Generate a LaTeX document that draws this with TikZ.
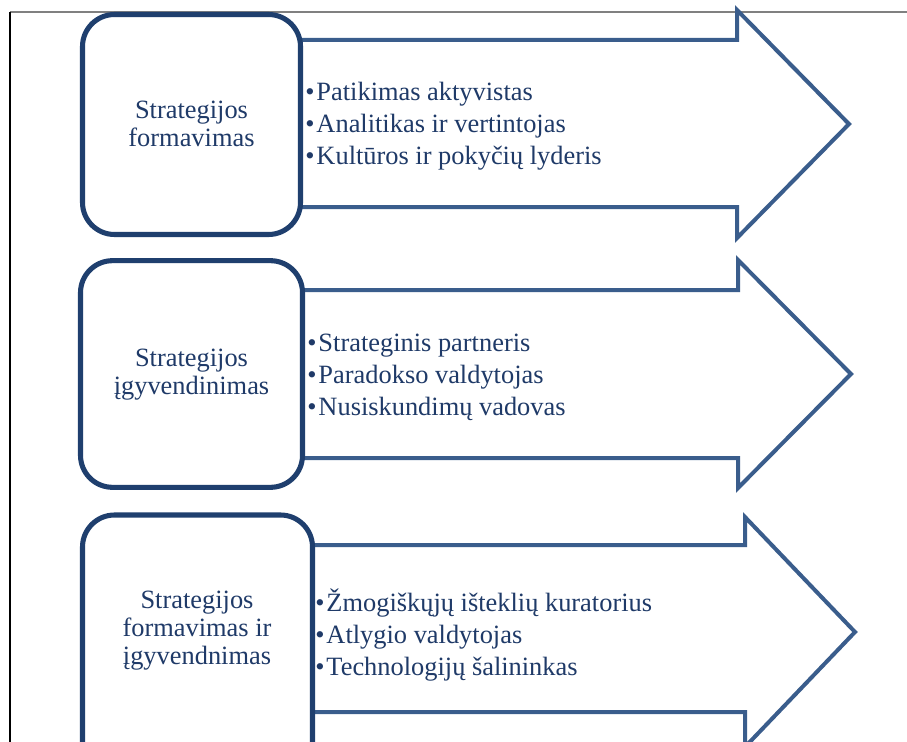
\documentclass[tikz,border=0pt]{standalone}
\usepackage{fontspec}
\setmainfont{Liberation Serif}
\usepackage{tikz}
\usepackage{xcolor}

\definecolor{boxblue}{HTML}{1F3F6E}
\definecolor{arrowblue}{HTML}{3A5D8C}
\definecolor{textblue}{HTML}{1F3A68}

\tikzset{
  stagebox/.style={draw=boxblue, line width=3.8pt, rounded corners=24pt,
    fill=white, inner sep=0pt},
  stagelabel/.style={text=textblue, align=center, inner sep=0pt,
    font=\fontsize{19.8}{21}\selectfont},
  rolelist/.style={anchor=west, text=textblue, align=left, inner sep=0pt,
    font=\fontsize{19.8}{24}\selectfont},
  bigarrow/.style={draw=arrowblue, line width=3pt, fill=white, line join=miter},
}

\begin{document}
\begin{tikzpicture}[x=0.75pt, y=-0.75pt]
    \clip (0,0) rectangle (907,742);
    \useasboundingbox (0,0) rectangle (907,742);
    % page frame
    \draw[gray, line width=0.8pt] (10,12) -- (907,12);
    \draw[black, line width=0.8pt] (10,12) -- (10,742);
    % arrows
    \draw[bigarrow] (300,40) -- (737,40) -- (737,10) -- (849,124)
          -- (737,238) -- (737,207) -- (300,207);
    \draw[bigarrow] (300,290) -- (738,290) -- (738,260) -- (851,374)
          -- (738,488) -- (738,458) -- (300,458);
    \draw[bigarrow] (310,545) -- (745,545) -- (745,517) -- (855,632)
          -- (745,747) -- (745,712) -- (310,712);
    % stage boxes
    \node[stagebox, minimum width=163.5pt, minimum height=165pt]
          (form) at (191.5,124.5) {};
    \node[stagebox, minimum width=166.5pt, minimum height=170pt]
          (impl) at (191.5,374) {};
    \node[stagebox, minimum width=172.5pt, minimum height=195pt]
          (both) at (197.5,645) {};
    % box texts
    \node[stagelabel] (formtext) at (191.5,124) {Strategijos\\formavimas};
    \node[stagelabel] (impltext) at (191.5,375) {Strategijos\\įgyvendinimas};
    \node[stagelabel] (bothtext) at (197,631)
          {Strategijos\\formavimas ir\\įgyvendnimas};
    % role lists
    \node[rolelist] (formroles) at (305,126)
          {\textbullet\hspace{1.5pt}Patikimas aktyvistas\\
           \textbullet\hspace{1.5pt}Analitikas ir vertintojas\\
           \textbullet\hspace{1.5pt}Kultūros ir pokyčių lyderis};
    \node[rolelist] (implroles) at (307,377)
          {\textbullet\hspace{1.5pt}Strateginis partneris\\
           \textbullet\hspace{1.5pt}Paradokso valdytojas\\
           \textbullet\hspace{1.5pt}Nusiskundimų vadovas};
    \node[rolelist] (bothroles) at (315,635)
          {\textbullet\hspace{1.5pt}Žmogiškųjų išteklių kuratorius\\
           \textbullet\hspace{1.5pt}Atlygio valdytojas\\
           \textbullet\hspace{1.5pt}Technologijų šalininkas};
  \end{tikzpicture}
\end{document}
